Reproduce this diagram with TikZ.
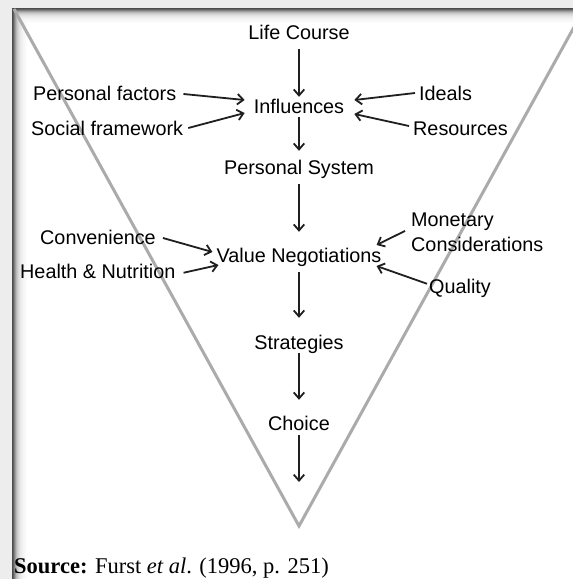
\documentclass[tikz,border=0pt]{standalone}
\usepackage{fontspec}
\setmainfont{Liberation Sans}
\newfontfamily\srcfont{Liberation Serif}
\usetikzlibrary{arrows.meta}

\tikzset{
  lbl/.style={inner sep=0pt, font=\fontsize{19.8}{25}\selectfont, text=black},
  one/.style={lbl, text height=14.5pt, text depth=4pt},
  arr/.style={line width=1.8pt, draw=black!88,
    -{Straight Barb[length=6pt,width=10.5pt]}},
  vline/.style={draw=black!33, line width=3pt, line join=miter},
}

\begin{document}
\begin{tikzpicture}[x=1pt,y=-1pt]
  \useasboundingbox (0,0) rectangle (573,579);

  % page background and white panel
  \fill[black!7] (0,0) rectangle (573,579);
  \fill[white] (12,8) rectangle (573,579);
  % inner shadow along the top and left edges of the panel
  \foreach \i/\c in {14/1,13/2,12/3,11/4,10/5,9/7,8/9,7/12,6/16,5/21,4/28,3/38,2/50,1/62,0/70}
    \draw[black!\c, line width=1.05pt] (12.5+\i,579) |- (573,8.5+\i);

  % the funnel
  \begin{scope}
    \clip (12,8) rectangle (573,579);
    \draw[vline] (14,9) -- (299,526) -- (584,9);
  \end{scope}

  % central chain
  \node[one, anchor=base] (lc)   at (299,39)  {Life Course};
  \node[one, anchor=base] (infl) at (299,113) {Influences};
  \node[one, anchor=base] (ps)   at (299,174) {Personal System};
  \node[one, anchor=base] (vn)   at (299,262) {Value Negotiations};
  \node[one, anchor=base] (str)  at (299,349) {Strategies};
  \node[one, anchor=base] (ch)   at (299,430) {Choice};
  \coordinate (out) at (299,482);

  % side factors
  \node[one, anchor=base west] (pf)   at (33,100)  {Personal factors};
  \node[one, anchor=base west] (sf)   at (31,135)  {Social framework};
  \node[one, anchor=base west] (id)   at (419,100) {Ideals};
  \node[one, anchor=base west] (res)  at (413,135) {Resources};
  \node[one, anchor=base west] (conv) at (40,244)  {Convenience};
  \node[one, anchor=base west] (hn)   at (20,278)  {Health \& Nutrition};
  \node[lbl, anchor=north west, align=left] (mc) at (411,212.8)
    {Monetary\\Considerations};
  \node[one, anchor=base west] (qual) at (429,293) {Quality};

  % vertical flow
  \draw[arr] ([shift={(0,6)}]lc.south)   -- ([shift={(0,-1.5)}]infl.north);
  \draw[arr] (infl.south)                -- ([shift={(0,-8.5)}]ps.north);
  \draw[arr] ([shift={(0,6)}]ps.south)   -- ([shift={(0,-15.5)}]vn.north);
  \draw[arr] ([shift={(0,6)}]vn.south)   -- ([shift={(0,-16.5)}]str.north);
  \draw[arr] (str.south)                 -- ([shift={(0,-15.5)}]ch.north);
  \draw[arr] ([shift={(0,1)}]ch.south)   -- (out);

  % influences
  \draw[arr] ([shift={(7,-0.75)}]pf.east)  -- ([shift={(-9,-7.75)}]infl.west);
  \draw[arr] ([shift={(5,-1.75)}]sf.east)  -- ([shift={(-9,5.25)}]infl.west);
  \draw[arr] ([shift={(-4,-1.75)}]id.west) -- ([shift={(10,-7.75)}]infl.east);
  \draw[arr] ([shift={(-4,-3.75)}]res.west) -- ([shift={(10,6.25)}]infl.east);

  % value negotiations
  \draw[arr] ([shift={(7,-0.75)}]conv.east) -- ([shift={(-4,-4.75)}]vn.west);
  \draw[arr] ([shift={(8,0)}]hn.east)       -- ([shift={(2,8.25)}]vn.west);
  \draw[arr] ([shift={(-6,-1.5)}]mc.west)   -- ([shift={(-5,-11.75)}]vn.east);
  \draw[arr] ([shift={(-2,-4)}]qual.west)   -- ([shift={(-5,9.25)}]vn.east);

  % source line
  \node[inner sep=0pt, anchor=base west, font=\srcfont\fontsize{22.5}{26}\selectfont]
    (src) at (14,573.5) {\textbf{Source:} Furst \textit{et al}. (1996, p. 251)};
\end{tikzpicture}
\end{document}
